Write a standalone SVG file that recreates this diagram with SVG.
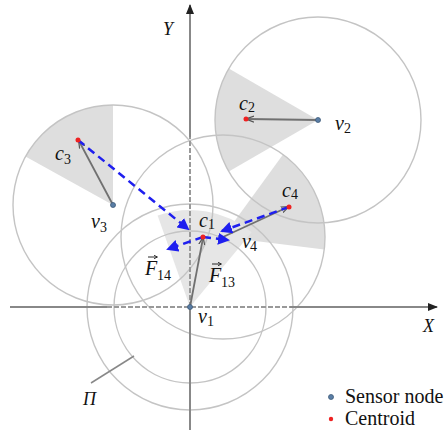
<svg xmlns="http://www.w3.org/2000/svg" width="446" height="430" viewBox="0 0 446 430">
<defs>
<style>
.circ{fill:none;stroke:#c4c4c4;stroke-width:1.4}
.sec{fill:#dedede;stroke:none}
.sec1{fill:#e6e6e6;stroke:none}
.axis{stroke:#888;stroke-width:2;fill:none}
.axisd{stroke:#999;stroke-width:2;fill:none;stroke-dasharray:5 2}
.link{stroke:#707070;stroke-width:1.8;fill:none}
.force{stroke:#1f1fef;stroke-width:2.5;fill:none;stroke-dasharray:8 5}
.vec{stroke:#111;stroke-width:0.9;fill:none}
.lbl{font-family:"Liberation Serif","Times New Roman",serif;font-style:italic;font-size:20px;fill:#111}
.sub{font-family:"Liberation Serif","Times New Roman",serif;font-style:normal;font-size:14px;fill:#111}
.leg{font-family:"Liberation Serif","Times New Roman",serif;font-size:20px;fill:#111}
.sensor{fill:#5a7ea6;stroke:#3d5a78;stroke-width:0.8}
.centroid{fill:#ee2222}
</style>
<marker id="axarr" markerWidth="10" markerHeight="10" refX="9" refY="5" orient="auto" markerUnits="userSpaceOnUse">
<path d="M0,1 L10,5 L0,9 Z" fill="#222"/>
</marker>
<marker id="garr" markerWidth="8" markerHeight="8" refX="7" refY="4" orient="auto" markerUnits="userSpaceOnUse">
<path d="M0,1 L8,4 L0,7" fill="none" stroke="#555" stroke-width="1.2"/>
</marker>
<marker id="barr" markerWidth="12" markerHeight="12" refX="10" refY="6" orient="auto" markerUnits="userSpaceOnUse">
<path d="M0,0 L12,6 L0,12 Z" fill="#1f1fef"/>
</marker>
<marker id="varr" markerWidth="4" markerHeight="4" refX="3.5" refY="2" orient="auto" markerUnits="userSpaceOnUse">
<path d="M0,0 L4,2 L0,4" fill="none" stroke="#111" stroke-width="0.8"/>
</marker>
</defs>

<g id="sectors">
<path class="sec" d="M113,205 L25.5,156.5 A100,100 0 0,1 113,105 Z"/>
<path class="sec" d="M318,120 L228.8,171.5 A103,103 0 0,1 228.8,68.5 Z"/>
<path class="sec" d="M223,237 L283,154.5 A102,102 0 0,1 324.2,249.4 Z"/>
<path class="sec1" d="M190,307 L157.6,215.6 A97,97 0 0,1 251.7,232.2 Z"/>
</g>

<g id="circles">
<circle class="circ" cx="113" cy="205" r="100"/>
<circle class="circ" cx="318" cy="120" r="103"/>
<circle class="circ" cx="223" cy="237" r="102"/>
<circle class="circ" cx="190" cy="307" r="103"/>
<circle class="circ" cx="190" cy="307" r="76"/>
</g>

<g id="axes">
<line class="axis" x1="10" y1="307" x2="107" y2="307"/>
<line class="axisd" x1="107" y1="307" x2="290" y2="307"/>
<line class="axis" x1="290" y1="307" x2="437" y2="307" marker-end="url(#axarr)"/>
<line class="axis" x1="190" y1="430" x2="190" y2="307"/>
<line class="axisd" x1="190" y1="307" x2="190" y2="137"/>
<line class="axis" x1="190" y1="137" x2="190" y2="5" marker-end="url(#axarr)"/>
<text class="lbl" x="163" y="35" style="font-size:18px">Y</text>
<text class="lbl" x="423" y="332" style="font-size:18px">X</text>
</g>

<g id="connectors">
<line class="link" x1="190" y1="307" x2="203" y2="238" marker-end="url(#garr)"/>
<line class="link" x1="318" y1="120" x2="247" y2="119" marker-end="url(#garr)"/>
<line class="link" x1="113" y1="205" x2="79" y2="141" marker-end="url(#garr)"/>
<line class="link" x1="223" y1="237" x2="288" y2="207" marker-end="url(#garr)"/>
<line class="force" x1="78" y1="140" x2="188" y2="229" marker-end="url(#barr)"/>
<line class="force" x1="289" y1="207" x2="222" y2="231" marker-end="url(#barr)"/>
<line class="force" x1="203" y1="237" x2="168" y2="249" marker-end="url(#barr)"/>
<line class="force" x1="203" y1="237" x2="228" y2="240" marker-end="url(#barr)"/>
<line x1="91" y1="383" x2="134" y2="356" stroke="#888" stroke-width="1.5"/>
</g>

<g id="v1"><circle class="sensor" cx="190" cy="307" r="2.5"/><text class="lbl" x="198" y="323">v</text><text class="sub" x="207" y="326">1</text></g>
<g id="c1"><circle class="centroid" cx="203" cy="237" r="2.5"/><text class="lbl" x="199" y="227">c</text><text class="sub" x="208" y="229">1</text></g>
<g id="v2"><circle class="sensor" cx="318" cy="120" r="2.5"/><text class="lbl" x="335" y="130">v</text><text class="sub" x="344" y="133">2</text></g>
<g id="c2"><circle class="centroid" cx="246" cy="119" r="2.5"/><text class="lbl" x="239" y="110">c</text><text class="sub" x="248" y="112">2</text></g>
<g id="v3"><circle class="sensor" cx="113" cy="205" r="2.5"/><text class="lbl" x="91" y="228">v</text><text class="sub" x="100" y="232">3</text></g>
<g id="c3"><circle class="centroid" cx="78" cy="140" r="2.5"/><text class="lbl" x="55" y="160">c</text><text class="sub" x="64" y="164">3</text></g>
<g id="v4"><text class="lbl" x="242" y="248">v</text><text class="sub" x="250" y="251">4</text></g>
<g id="c4"><circle class="centroid" cx="289" cy="207" r="2.5"/><text class="lbl" x="282" y="197">c</text><text class="sub" x="291" y="199">4</text></g>

<g id="F14"><text class="lbl" x="145" y="275">F</text><line class="vec" x1="148" y1="257" x2="157" y2="257" marker-end="url(#varr)"/><text class="sub" x="157" y="280">14</text></g>
<g id="F13"><text class="lbl" x="209" y="282">F</text><line class="vec" x1="212" y1="264" x2="221" y2="264" marker-end="url(#varr)"/><text class="sub" x="221" y="287">13</text></g>
<g id="Pi"><text class="lbl" x="83" y="405" style="font-size:18px">Π</text></g>

<g id="legend">
<circle class="sensor" cx="331" cy="397" r="2.5"/><text class="leg" x="345" y="403">Sensor node</text>
<circle class="centroid" cx="331" cy="419" r="2.2"/><text class="leg" x="345" y="425">Centroid</text>
</g>
</svg>
